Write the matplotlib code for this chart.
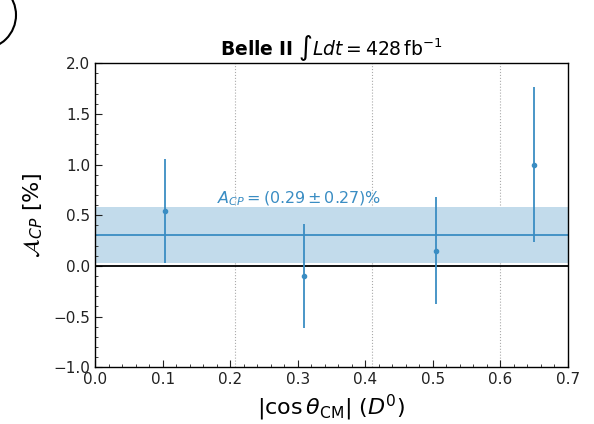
import matplotlib
matplotlib.use("Agg")
import matplotlib.pyplot as plt
from matplotlib.patches import Circle
from matplotlib.ticker import MultipleLocator

x_centers = [0.103, 0.309, 0.505, 0.650]
acp_values = [0.54, -0.10, 0.15, 1.00]
acp_errors = [0.51, 0.51, 0.53, 0.76]
bin_edges = [0.207, 0.41, 0.599]
avg_value = 0.30
avg_error = 0.276

blue = '#3a8dc3'
band = '#c2dbeb'

fig = plt.figure(figsize=(5.94, 4.24), dpi=100)
ax = fig.add_axes([0.16, 0.134, 0.796, 0.717])

ax.axhspan(avg_value - avg_error, avg_value + avg_error, color=band, lw=0, zorder=1)
ax.axhline(avg_value, color=blue, lw=1.3, zorder=2)
ax.axhline(0, color='black', lw=1.3, zorder=2)
for e in bin_edges:
    ax.axvline(e, color='#aaaaaa', lw=0.8, ls=':', zorder=0)
ax.errorbar(x_centers, acp_values, yerr=acp_errors, fmt='o', color=blue,
            ms=3, lw=1.3, capsize=0, zorder=3)

ax.text(0.181, 0.62, r'$A_{CP} = (0.29 \pm 0.27)\%$', color=blue, fontsize=11.5)

ax.set_xlim(0, 0.7)
ax.set_ylim(-1.0, 2.0)
ax.xaxis.set_major_locator(MultipleLocator(0.1))
ax.xaxis.set_minor_locator(MultipleLocator(0.02))
ax.yaxis.set_major_locator(MultipleLocator(0.5))
ax.yaxis.set_minor_locator(MultipleLocator(0.1))
ax.tick_params(which='both', direction='in', top=False, right=False, labelsize=11, colors='#222222')
ax.tick_params(which='major', length=5)
ax.tick_params(which='minor', length=2.5)
for s in ax.spines.values():
    s.set_linewidth(1.0)

ax.set_xlabel(r'$|\cos\theta_{\rm CM}|$ $(D^0)$', fontsize=16)
ax.set_ylabel(r'$\mathcal{A}_{CP}$ [%]', fontsize=16, labelpad=6)
ax.set_title(r'$\bf{Belle\ II}$ $\int Ldt = 428\,\mathrm{fb}^{-1}$', fontsize=13.5, pad=5)

circ = Circle((-18, 424 - 15), 34, transform=None, fill=False, lw=1.5, ec='black')
fig.patches.append(circ)

fig.savefig('out.png', dpi=100)
